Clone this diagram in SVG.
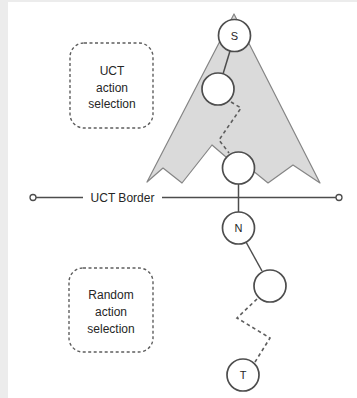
<svg xmlns="http://www.w3.org/2000/svg" width="357" height="398" viewBox="0 0 357 398">
  <style>
    .node { fill: #ffffff; stroke: #4d4d4d; stroke-width: 1.7; }
    .lbl { font-family: "Liberation Sans", Arial, sans-serif; font-size: 12px; fill: #262626; text-anchor: middle; }
    .tag { font-size: 11px; }
    .note { fill: none; stroke: #5e5e5e; stroke-width: 1.4; stroke-dasharray: 3 2.5; }
    .edge { fill: none; stroke: #4d4d4d; stroke-width: 1.5; }
    .dash { fill: none; stroke: #5e5e5e; stroke-width: 1.6; stroke-dasharray: 3.5 3; }
  </style>

  <!-- page background with a light frame on the left and top -->
  <rect x="0" y="0" width="357" height="398" fill="#ececec"/>
  <rect x="8" y="2" width="349" height="396" fill="#ffffff"/>

  <!-- explored tree region -->
  <polygon id="tree-region" points="234,14 320,183 293,165 268,183 252,170 238,168 226,157 212,145 182,183 163,168 147,182"
           fill="#dadada" stroke="#858585" stroke-width="1.2" stroke-linejoin="round"/>

  <g id="connectors">
    <!-- UCT border line -->
    <line class="edge" x1="36" y1="197.5" x2="83" y2="197.5"/>
    <line class="edge" x1="162" y1="197.5" x2="336" y2="197.5"/>
    <!-- tree path -->
    <line class="edge" x1="230" y1="51" x2="223" y2="74"/>
    <polyline class="dash" points="231,102 241,108 219,140 229,153"/>
    <line class="edge" x1="238.5" y1="184" x2="238.5" y2="212"/>
    <line class="edge" x1="246" y1="242" x2="262" y2="271"/>
    <polyline class="dash" points="257,299 237,318 270,338 255,362"/>
  </g>

  <g id="border-start">
    <circle cx="33" cy="197.5" r="3" fill="#ffffff" stroke="#4d4d4d" stroke-width="1.3"/>
  </g>
  <g id="border-end">
    <circle cx="339" cy="197.5" r="3" fill="#ffffff" stroke="#4d4d4d" stroke-width="1.3"/>
  </g>
  <g id="border-label">
    <text class="lbl" x="122.5" y="202" font-size="12.5">UCT Border</text>
  </g>

  <g id="node-s">
    <circle class="node" cx="234.5" cy="35.5" r="16"/>
    <text class="lbl tag" x="234.5" y="39.5">S</text>
  </g>
  <g id="node-a">
    <circle class="node" cx="218" cy="89" r="16"/>
  </g>
  <g id="node-b">
    <circle class="node" cx="238.5" cy="168" r="16"/>
  </g>
  <g id="node-n">
    <circle class="node" cx="238.5" cy="228" r="16"/>
    <text class="lbl tag" x="238.5" y="232">N</text>
  </g>
  <g id="node-c">
    <circle class="node" cx="270" cy="286" r="16"/>
  </g>
  <g id="node-t">
    <circle class="node" cx="243" cy="375" r="16"/>
    <text class="lbl tag" x="243" y="379">T</text>
  </g>

  <g id="note-uct">
    <rect class="note" x="70" y="43" width="83" height="85" rx="14"/>
    <text class="lbl" x="112" y="74.5">UCT</text>
    <text class="lbl" x="112" y="91.5">action</text>
    <text class="lbl" x="112" y="108">selection</text>
  </g>
  <g id="note-random">
    <rect class="note" x="69" y="268" width="84" height="84" rx="14"/>
    <text class="lbl" x="111" y="299">Random</text>
    <text class="lbl" x="111" y="316">action</text>
    <text class="lbl" x="111" y="332.5">selection</text>
  </g>
</svg>
